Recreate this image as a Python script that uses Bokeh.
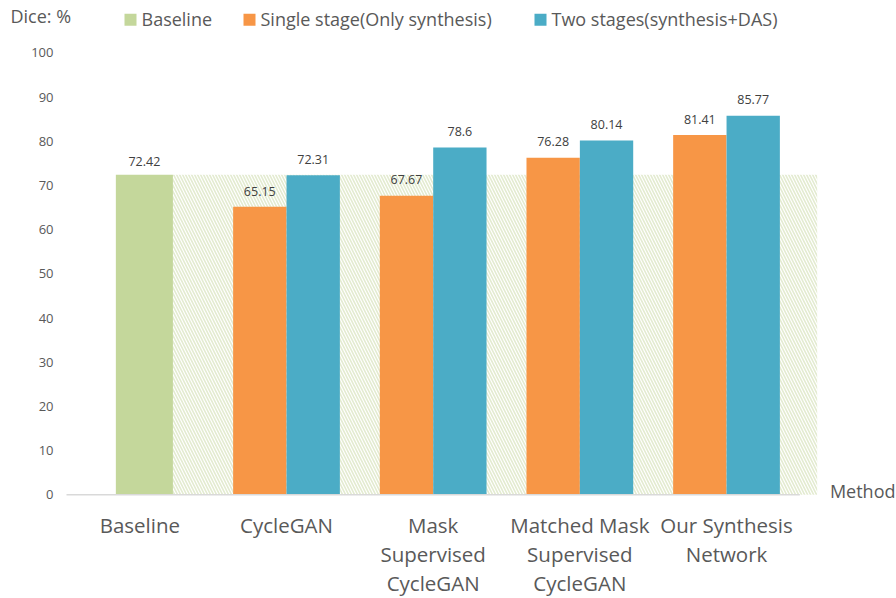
from bokeh.plotting import figure
from bokeh.models import FixedTicker, Range1d, ColumnDataSource
from bokeh.embed import file_html
from bokeh.resources import INLINE
from bokeh.core.properties import value

# ---------------- data ----------------
categories = ["Baseline", "CycleGAN", "Mask\nSupervised\nCycleGAN",
              "Matched Mask\nSupervised\nCycleGAN", "Our Synthesis\nNetwork"]
baseline_value = [72.42]
single_stage = [65.15, 67.67, 76.28, 81.41]      # CycleGAN .. Our Synthesis Network
two_stage = [72.31, 78.6, 80.14, 85.77]
y_ticks = [0, 10, 20, 30, 40, 50, 60, 70, 80, 90, 100]
legend_labels = ["Baseline", "Single stage(Only synthesis)", "Two stages(synthesis+DAS)"]
y_title = "Dice: %"
x_title = "Method"

# ---------------- styles / layout ----------------
GREEN = "#C4D79B"
ORANGE = "#F79646"
BLUE = "#4BACC6"
HATCH = "#E3EBD0"
TXT = "#595959"
LBL = "#404040"
FONT = "Open Sans"

W, H = 896, 598
PX_X = 146.67       # pixels per category
PX_Y = 4.42         # pixels per Dice unit
SHIFT = 0.38        # baseline correction (in em)

def X(px):
    return -0.5 + (px - 66) / PX_X

def Y(py):
    return (494.3 - py) / PX_Y

def YB(py, fs):
    # text baseline at pixel row py for a font of fs px
    return Y(py - SHIFT * fs)

p = figure(width=W, height=H, output_backend="svg", toolbar_location=None,
           x_axis_location=None, y_axis_location="left",
           min_border_left=0, min_border_right=0, min_border_top=0, min_border_bottom=0,
           x_range=Range1d(X(0), X(W)), y_range=Range1d(Y(H), Y(0)))
p.outline_line_color = None
p.xgrid.visible = False
p.ygrid.visible = False
p.background_fill_color = "white"
p.border_fill_color = "white"

ax = p.yaxis[0]
ax.fixed_location = -0.5
ax.ticker = FixedTicker(ticks=y_ticks)
ax.axis_line_color = None
ax.major_tick_line_color = None
ax.minor_tick_line_color = None
ax.major_tick_out = 0
ax.major_tick_in = 0
ax.major_label_standoff = 13
ax.major_label_text_font = FONT
ax.major_label_text_font_size = "13px"
ax.major_label_text_color = TXT

# positions
base_off, base_w = 0.031, 0.389
bar_w = 0.3636
off = 0.182
idx = list(range(1, len(categories)))

# hatched band at baseline level
p.quad(left=[0 + base_off + base_w / 2], right=[X(816.7)], bottom=[0], top=baseline_value,
       fill_color=None, line_color=None, hatch_pattern="\\", hatch_color=HATCH,
       hatch_scale=6, hatch_weight=1.6)

# bars
LFS = 12.5
lift = lambda v, px: v + (px + SHIFT * LFS) / PX_Y
src_b = ColumnDataSource(dict(x=[0 + base_off], top=baseline_value,
                              ly=[lift(v, 8) for v in baseline_value],
                              t=[str(v) for v in baseline_value]))
src_s = ColumnDataSource(dict(x=[i - off for i in idx], top=single_stage,
                              ly=[lift(v, 11) for v in single_stage],
                              t=[str(v) for v in single_stage]))
src_t = ColumnDataSource(dict(x=[i + off for i in idx], top=two_stage,
                              ly=[lift(v, 11) for v in two_stage],
                              t=[str(v) for v in two_stage]))
p.vbar(x="x", top="top", bottom=0, width=base_w, source=src_b, fill_color=GREEN, line_color=None)
p.vbar(x="x", top="top", bottom=0, width=bar_w, source=src_s, fill_color=ORANGE, line_color=None)
p.vbar(x="x", top="top", bottom=0, width=bar_w, source=src_t, fill_color=BLUE, line_color=None)

# x axis line
p.segment(x0=[-0.5], y0=[0], x1=[len(categories) - 0.5], y1=[0], line_color="#D9D9D9", line_width=1.5)

# data labels
for s in (src_b, src_s, src_t):
    p.text(x="x", y="ly", text="t", source=s, text_align="center", text_baseline="alphabetic",
           text_font=value(FONT), text_font_size=f"{LFS}px", text_color=LBL)

# category labels (one glyph per line)
CFS = 20.5
lx, ly, lt = [], [], []
for i, c in enumerate(categories):
    for k, line in enumerate(c.split("\n")):
        lx.append(i)
        ly.append(YB(532.7 + 28.6 * k, CFS))
        lt.append(line)
p.text(x=lx, y=ly, text=lt, text_align="center", text_baseline="alphabetic",
       text_font=value(FONT), text_font_size=f"{CFS}px", text_color=TXT)

# x title
p.text(x=[X(895)], y=[YB(497, 18)], text=[x_title], text_align="right", text_baseline="alphabetic",
       text_font=value(FONT), text_font_size="18px", text_color=TXT)

# y title
p.text(x=[X(10)], y=[YB(22, 18)], text=[y_title], text_align="left", text_baseline="alphabetic",
       text_font=value(FONT), text_font_size="18px", text_color=TXT)

# legend
sq_x = [X(130), X(249), X(540)]
p.scatter(x=sq_x, y=[Y(19.2)] * 3, marker="square", size=12,
          fill_color=[GREEN, ORANGE, BLUE], line_color=None)
p.text(x=[X(141), X(260), X(551)], y=[YB(25, 18)] * 3, text=legend_labels,
       text_align="left", text_baseline="alphabetic",
       text_font=value(FONT), text_font_size="18px", text_color=TXT)

open("out.html", "w").write(file_html(p, INLINE))
